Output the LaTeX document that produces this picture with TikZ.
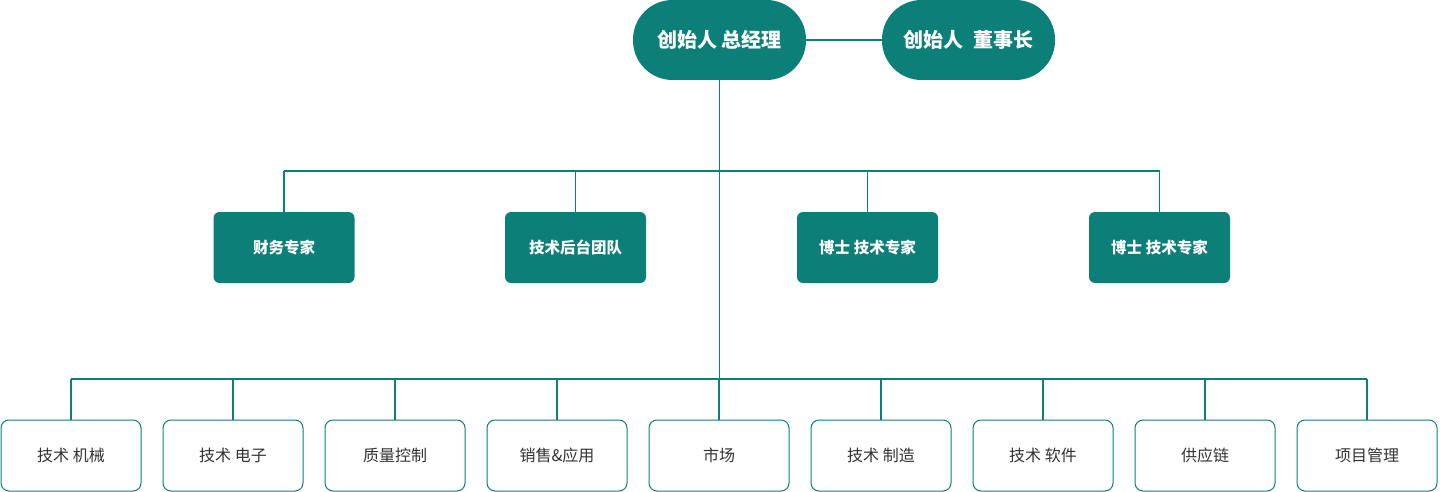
\documentclass[tikz,border=0pt]{standalone}
\usepackage{fontspec}
\setmainfont{Noto Sans CJK SC}
\usetikzlibrary{positioning}
\usepackage{xcolor}
\definecolor{orgteal}{HTML}{0C7F78}
\definecolor{orgtext}{HTML}{333333}

\begin{document}
\begin{tikzpicture}[x=1pt, y=-1pt,
    lead/.style={fill=orgteal, text=white, font=\bfseries\fontsize{20}{20}\selectfont, minimum width=173pt, minimum height=80pt, rounded corners=39.5pt},
    expert/.style={fill=orgteal, text=white, font=\bfseries\fontsize{15.5}{16}\selectfont, minimum width=141pt, minimum height=71pt, rounded corners=6pt},
    dept/.style={draw=orgteal, line width=1pt, fill=white, text=orgtext, font=\fontsize{16}{16}\selectfont, minimum width=140pt, minimum height=71pt, rounded corners=8pt},
    link/.style={draw=orgteal, line width=1.5pt}]
       \useasboundingbox (0,0) rectangle (1440,492);

       % founders
       \node[lead] (gm) at (719.5, 40) {创始人 总经理};
       \node[lead] (ch) at (968.5, 40) {创始人\ \ 董事长};

       % experts
       \node[expert] (fin) at (284, 247.5) {财务专家};
       \node[expert] (tech) at (575.5, 247.5) {技术后台团队};
       \node[expert] (phd1) at (867.5, 247.5) {博士 技术专家};
       \node[expert] (phd2) at (1159.5, 247.5) {博士 技术专家};

       % departments
       \node[dept] (mech) at (71, 455.5) {技术 机械};
       \node[dept] (elec) at (233, 455.5) {技术 电子};
       \node[dept] (qc) at (395, 455.5) {质量控制};
       \node[dept] (sales) at (557, 455.5) {销售\&应用};
       \node[dept] (mkt) at (719, 455.5) {市场};
       \node[dept] (mfg) at (881, 455.5) {技术 制造};
       \node[dept] (soft) at (1043, 455.5) {技术 软件};
       \node[dept] (supply) at (1205, 455.5) {供应链};
       \node[dept] (pm) at (1367, 455.5) {项目管理};

       \coordinate (bus1) at (719.5, 171);
       \coordinate (bus2) at (719.5, 379);

       \draw[link] (gm) -- (ch);
       \draw[link] (gm.south) -- (bus2);

       \draw[link] (fin.north |- bus1) -- (phd2.north |- bus1);
       \draw[link] (fin.north |- bus1) -- (fin.north);
       \draw[link] (tech.north |- bus1) -- (tech.north);
       \draw[link] (phd1.north |- bus1) -- (phd1.north);
       \draw[link] (phd2.north |- bus1) -- (phd2.north);

       \draw[link] (mech.north |- bus2) -- (pm.north |- bus2);
       \draw[link] (mech.north |- bus2) -- (mech.north);
       \draw[link] (elec.north |- bus2) -- (elec.north);
       \draw[link] (qc.north |- bus2) -- (qc.north);
       \draw[link] (sales.north |- bus2) -- (sales.north);
       \draw[link] (mkt.north |- bus2) -- (mkt.north);
       \draw[link] (mfg.north |- bus2) -- (mfg.north);
       \draw[link] (soft.north |- bus2) -- (soft.north);
       \draw[link] (supply.north |- bus2) -- (supply.north);
       \draw[link] (pm.north |- bus2) -- (pm.north);
    \end{tikzpicture}
\end{document}
